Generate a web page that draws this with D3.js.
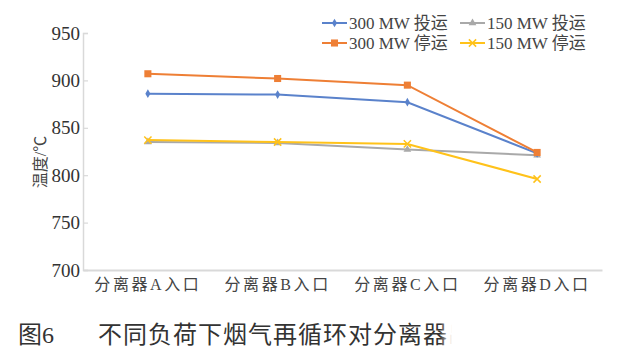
<!DOCTYPE html>
<html>
<head>
<meta charset="utf-8">
<script src="https://cdn.jsdelivr.net/npm/d3@7"></script>
<style>
  html, body { margin: 0; padding: 0; background: #fff; }
  svg { display: block; }
</style>
</head>
<body>
<div id="chart"></div>
<script>
const categories = ['分离器A入口', '分离器B入口', '分离器C入口', '分离器D入口'];
const s300On = [886, 885, 877, 823];
const s300Off = [907, 902, 895, 824];
const s150On = [835, 834, 827, 821];
const s150Off = [837, 835, 833, 796];
const yTicks = [700, 750, 800, 850, 900, 950];

const series = [
    { name: '300 MW 投运', values: s300On, color: '#5a82cb', symbol: d3.symbolDiamond, size: 22 },
    { name: '150 MW 投运', values: s150On, color: '#a9a9a9', symbol: d3.symbolTriangle, size: 26 },
    { name: '300 MW 停运', values: s300Off, color: '#ee7f35', symbol: d3.symbolSquare, size: 50 },
    { name: '150 MW 停运', values: s150Off, color: '#ffc21a', symbol: d3.symbolTimes || d3.symbolCross, size: 36 }
];

const W = 640, H = 353;
const serif = '"Liberation Serif", "Noto Sans CJK SC", serif';

const svg = d3.select('#chart')
    .append('svg')
    .attr('width', W)
    .attr('height', H);

const x = d3.scaleBand()
    .domain(categories)
    .range([83, 602]);
const y = d3.scaleLinear()
    .domain([700, 950])
    .range([270, 33]);
const cx = (c) => x(c) + x.bandwidth() / 2;

// y axis
const yAxis = d3.axisLeft(y).tickValues(yTicks).tickSize(-5).tickPadding(8);
const gy = svg.append('g')
    .attr('transform', 'translate(83,0)')
    .call(yAxis);
gy.select('.domain').attr('stroke', '#d9d9d9').attr('stroke-width', 1.5);
gy.selectAll('.tick line').attr('stroke', '#d9d9d9').attr('stroke-width', 1.2);
gy.selectAll('.tick text')
    .attr('x', -3)
    .style('font-family', serif)
    .style('font-size', '19px')
    .attr('fill', '#333');

// x axis
const xAxis = d3.axisBottom(x).tickSize(0).tickPadding(9);
const gx = svg.append('g')
    .attr('transform', 'translate(0,270)')
    .call(xAxis);
gx.select('.domain').attr('stroke', '#d9d9d9').attr('stroke-width', 2);
gx.selectAll('.tick text')
    .style('font-family', serif)
    .style('font-size', '16px')
    .style('letter-spacing', '2.6px')
    .attr('fill', '#444');

// y label
svg.append('text')
    .attr('transform', 'translate(46,162) rotate(-90)')
    .attr('text-anchor', 'middle')
    .style('font-family', serif)
    .style('font-size', '16px')
    .attr('fill', '#444')
    .text('温度/℃');

// lines
const line = d3.line()
    .x((d, i) => cx(categories[i]))
    .y((d) => y(d));

const order = [1, 3, 0, 2];
order.forEach((k) => {
    const s = series[k];
    const g = svg.append('g');
    g.append('path')
        .datum(s.values)
        .attr('fill', 'none')
        .attr('stroke', s.color)
        .attr('stroke-width', 2)
        .attr('d', line);
    g.selectAll('path.pt')
        .data(s.values)
        .enter()
        .append('path')
        .classed('pt', true)
        .attr('transform', (d, i) => `translate(${cx(categories[i])},${y(d)})`)
        .attr('d', d3.symbol().type(s.symbol).size(s.size))
        .attr('fill', s.color)
        .attr('stroke', s.color)
        .attr('stroke-width', s.symbol === series[3].symbol ? 1.5 : 0);
});

// legend
const legendPos = [
    { x: 322, y: 23 },
    { x: 460, y: 23 },
    { x: 322, y: 43 },
    { x: 460, y: 43 }
];
series.forEach((s, i) => {
    const p = legendPos[i];
    const g = svg.append('g').attr('transform', `translate(${p.x},${p.y})`);
    g.append('line')
        .attr('x1', 0).attr('x2', 25)
        .attr('stroke', s.color).attr('stroke-width', 2);
    g.append('path')
        .attr('transform', 'translate(12.5,0)')
        .attr('d', d3.symbol().type(s.symbol).size(s.size))
        .attr('fill', s.color)
        .attr('stroke', s.color)
        .attr('stroke-width', i === 3 ? 1.5 : 0);
    g.append('text')
        .attr('x', 27)
        .attr('dy', '0.35em')
        .style('font-family', serif)
        .style('font-size', '17px')
        .attr('fill', '#444')
        .text(s.name);
});

// caption with faded tail
const defs = svg.append('defs');
const grad = defs.append('linearGradient')
    .attr('id', 'fade')
    .attr('x1', 0).attr('x2', 1).attr('y1', 0).attr('y2', 0);
grad.append('stop').attr('offset', '0%').attr('stop-color', '#fff').attr('stop-opacity', 0);
grad.append('stop').attr('offset', '6%').attr('stop-color', '#fff').attr('stop-opacity', 1);
grad.append('stop').attr('offset', '100%').attr('stop-color', '#fff').attr('stop-opacity', 1);

svg.append('text')
    .attr('x', 18)
    .attr('y', 343)
    .style('font-family', serif)
    .style('font-size', '24px')
    .attr('fill', '#333')
    .text('图6');
svg.append('text')
    .attr('x', 98)
    .attr('y', 343)
    .style('font-family', serif)
    .style('font-size', '24px')
    .style('letter-spacing', '1px')
    .attr('fill', '#333')
    .text('不同负荷下烟气再循环对分离器出口烟温的影响');
svg.append('rect')
    .attr('x', 440)
    .attr('y', 312)
    .attr('width', 200)
    .attr('height', 41)
    .attr('fill', 'url(#fade)');
</script>
</body>
</html>
